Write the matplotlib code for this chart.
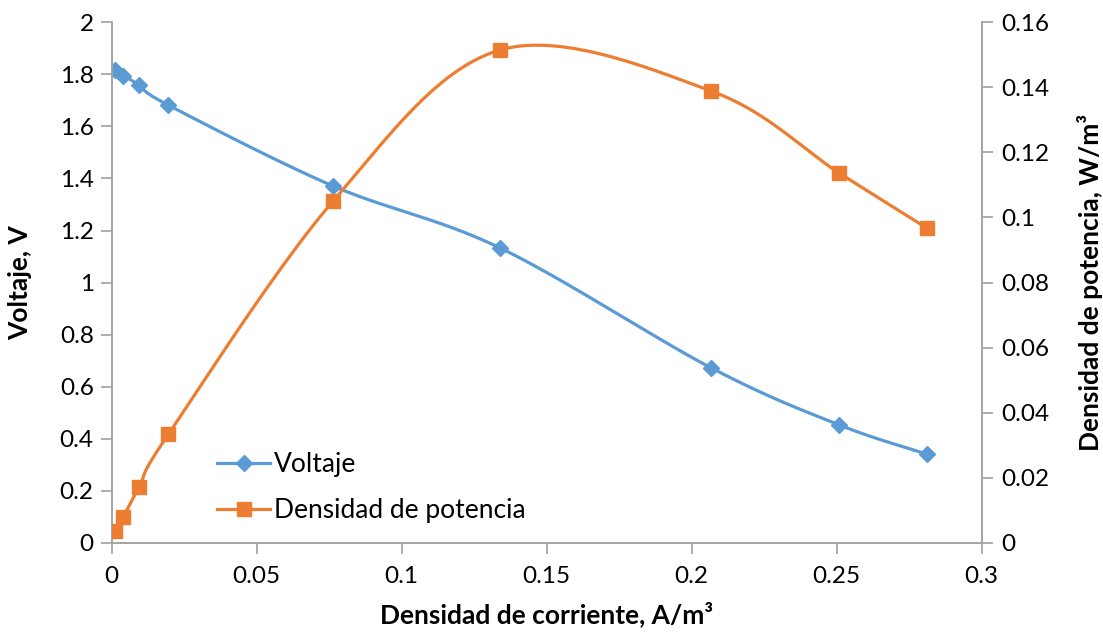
import numpy as np
import matplotlib.pyplot as plt
from matplotlib.ticker import FuncFormatter, MultipleLocator

# data
corriente = [0.0011, 0.0040, 0.0095, 0.0195, 0.0763, 0.1339, 0.2067, 0.2508, 0.2810]
voltaje = [1.817, 1.795, 1.759, 1.682, 1.371, 1.133, 0.672, 0.453, 0.341]
potencia = [0.0035, 0.0080, 0.0172, 0.0333, 0.1050, 0.1515, 0.1389, 0.1137, 0.0968]

azul = '#5B9BD5'
naranja = '#ED7D31'
gris = '#A6A6A6'

plt.rcParams['font.family'] = ['Lato', 'DejaVu Sans']


def suavizar(x, y, sx, sy, n=40):
    # Excel style smoothed line: cubic bezier, control points at 1/6 of neighbour chord
    px = np.asarray(x) * sx
    py = np.asarray(y) * sy
    P = np.column_stack([px, py])
    m = len(P)
    out = []
    t = np.linspace(0, 1, n)[:, None]
    for i in range(m - 1):
        p0 = P[i]
        p3 = P[i + 1]
        prev = P[i - 1] if i > 0 else P[i]
        nxt = P[i + 2] if i + 2 < m else P[i + 1]
        c1 = p0 + (p3 - prev) / 6
        c2 = p3 - (nxt - p0) / 6
        seg = (1 - t) ** 3 * p0 + 3 * (1 - t) ** 2 * t * c1 + 3 * (1 - t) * t ** 2 * c2 + t ** 3 * p3
        out.append(seg if i == 0 else seg[1:])
    out = np.vstack(out)
    return out[:, 0] / sx, out[:, 1] / sy


fig = plt.figure(figsize=(11.03, 6.39), dpi=100)
ax = fig.add_axes([0.1013, 0.1507, 0.7887, 0.8143])
ax2 = ax.twinx()

ancho_px, alto_px = 870, 520
xv, yv = suavizar(corriente, voltaje, ancho_px / 0.3, alto_px / 2.0)
xp, yp = suavizar(corriente, potencia, ancho_px / 0.3, alto_px / 0.16)

ax.plot(xv, yv, color=azul, lw=2.3, zorder=3)
ax.plot(corriente, voltaje, ls='none', marker='D', ms=8, color=azul, zorder=4)
ax2.plot(xp, yp, color=naranja, lw=2.3, zorder=3)
ax2.plot(corriente, potencia, ls='none', marker='s', ms=9.5, color=naranja, zorder=4)

ax.set_xlim(0, 0.3)
ax.set_ylim(0, 2)
ax2.set_ylim(0, 0.16)
ax.xaxis.set_major_locator(MultipleLocator(0.05))
ax.yaxis.set_major_locator(MultipleLocator(0.2))
ax2.yaxis.set_major_locator(MultipleLocator(0.02))

fmt = FuncFormatter(lambda v, p: '%g' % round(v, 4))
ax.xaxis.set_major_formatter(fmt)
ax.yaxis.set_major_formatter(fmt)
ax2.yaxis.set_major_formatter(fmt)

for a in (ax, ax2):
    for s in a.spines.values():
        s.set_color(gris)
        s.set_linewidth(1.3)
    a.spines['top'].set_visible(False)
    a.tick_params(colors=gris, labelcolor='black', labelsize=17.5, length=8, width=1.3)
ax.tick_params(axis='x', pad=9)
ax.tick_params(axis='y', pad=5)
ax2.tick_params(axis='y', pad=6)

ax.set_xlabel('Densidad de corriente, A/m³', fontsize=19, fontweight='bold', labelpad=10)
ax.set_ylabel('Voltaje, V', fontsize=19, fontweight='bold', labelpad=20)
ax2.set_ylabel('Densidad de potencia, W/m³', fontsize=19, fontweight='bold', labelpad=20)

# legend built from handles of both axes
h1 = plt.Line2D([], [], color=azul, lw=2.3, marker='D', ms=8)
h2 = plt.Line2D([], [], color=naranja, lw=2.3, marker='s', ms=9.5)
ax.legend([h1, h2], ['Voltaje', 'Densidad de potencia'], loc='lower left',
          bbox_to_anchor=(0.094, -0.008), frameon=False, fontsize=19,
          handlelength=2.0, handletextpad=0.15, labelspacing=0.8)

fig.savefig('out.png', dpi=100)
